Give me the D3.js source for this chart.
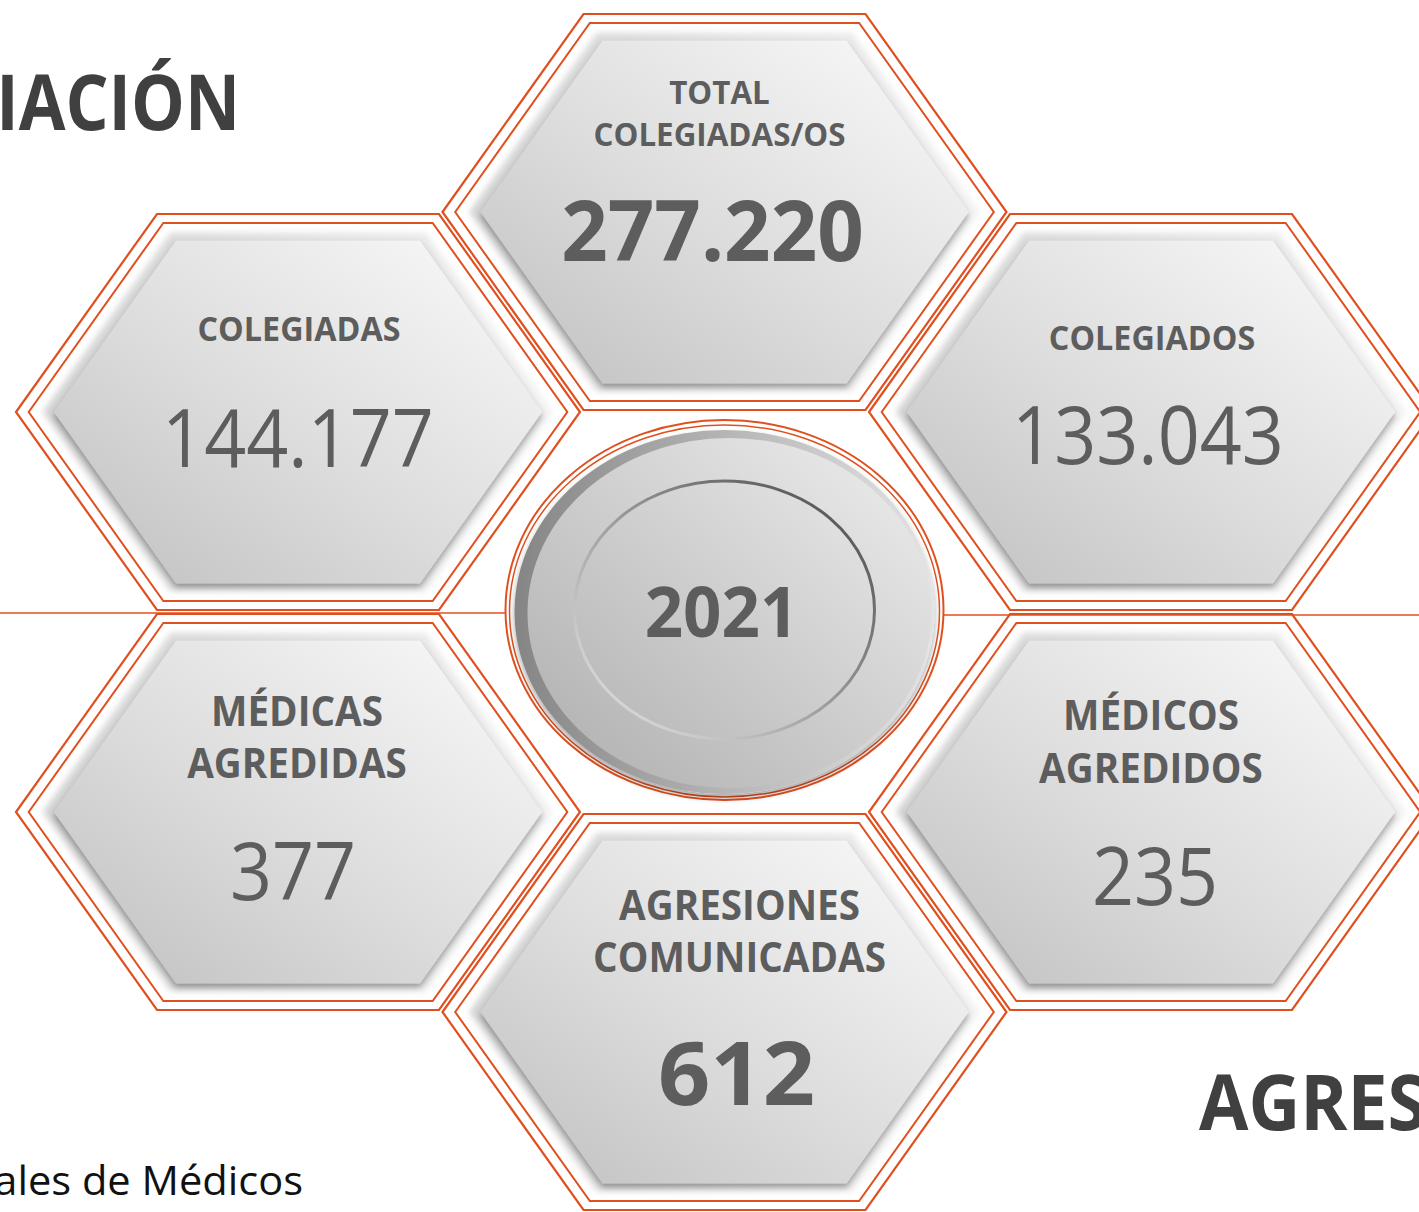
<!DOCTYPE html>
<html>
<head>
<meta charset="utf-8">
<script src="https://cdn.jsdelivr.net/npm/d3@7"></script>
<style>
  body { margin: 0; background: #fff; }
  svg { display: block; }
  text { font-family: "Open Sans", sans-serif; }
</style>
</head>
<body>
<script>
// data
var labels = [["TOTAL", "COLEGIADAS/OS"], ["COLEGIADAS"], ["COLEGIADOS"],
              ["MÉDICAS", "AGREDIDAS"], ["MÉDICOS", "AGREDIDOS"], ["AGRESIONES", "COMUNICADAS"]];
var values = [277220, 144177, 133043, 377, 235, 612];
var year = "2021";
var headings = ["COLEGIACIÓN", "AGRESIONES"];
var source = "Fuente: Consejo General de Colegios Oficiales de Médicos";

// layout: cell of each hexagon on a grid (col, row), centre disc sits at (1, 2)
var cols = [1, 0, 2, 0, 2, 1];
var rows = [0, 1, 1, 3, 3, 4];

var width = 1419, height = 1212;
var orange = "#e0501f", ink = "#5d5d5d";

var x = d3.scaleLinear().domain([0, 2]).range([298, 1151]);
var y = d3.scaleLinear().domain([0, 4]).range([212, 1012]);

var es = d3.formatLocale({decimal: ",", thousands: ".", grouping: [3], currency: ["", "€"]});
var fmt = es.format(",d");

var svg = d3.select("body").append("svg")
    .attr("width", width)
    .attr("height", height);

var defs = svg.append("defs");

var g1 = defs.append("linearGradient").attr("id", "face")
    .attr("x1", 1).attr("y1", 0).attr("x2", 0).attr("y2", 1);
g1.append("stop").attr("offset", 0).attr("stop-color", "#fbfbfb");
g1.append("stop").attr("offset", 0.55).attr("stop-color", "#dcdcdc");
g1.append("stop").attr("offset", 1).attr("stop-color", "#bfbfbf");

var g2 = defs.append("linearGradient").attr("id", "halo")
    .attr("x1", 0).attr("y1", 0).attr("x2", 1).attr("y2", 0);
g2.append("stop").attr("offset", 0).attr("stop-color", "#d2d2d2");
g2.append("stop").attr("offset", 1).attr("stop-color", "#f2f2f2");

var g3 = defs.append("linearGradient").attr("id", "rim")
    .attr("x1", 0).attr("y1", 0).attr("x2", 1).attr("y2", 0);
g3.append("stop").attr("offset", 0).attr("stop-color", "#858585");
g3.append("stop").attr("offset", 1).attr("stop-color", "#e4e4e4");

var g4 = defs.append("linearGradient").attr("id", "disc")
    .attr("x1", 1).attr("y1", 0).attr("x2", 0).attr("y2", 1);
g4.append("stop").attr("offset", 0).attr("stop-color", "#efefef");
g4.append("stop").attr("offset", 1).attr("stop-color", "#adadad");

var g5 = defs.append("linearGradient").attr("id", "ring")
    .attr("x1", 1).attr("y1", 0).attr("x2", 0).attr("y2", 1);
g5.append("stop").attr("offset", 0).attr("stop-color", "#444");
g5.append("stop").attr("offset", 0.5).attr("stop-color", "#9a9a9a");
g5.append("stop").attr("offset", 1).attr("stop-color", "#ececec");

var blur = defs.append("filter").attr("id", "blur")
    .attr("x", "-10%").attr("y", "-10%").attr("width", "120%").attr("height", "120%");
blur.append("feGaussianBlur").attr("stdDeviation", 3);

var shadow = defs.append("filter").attr("id", "shadow")
    .attr("x", "-10%").attr("y", "-10%").attr("width", "120%").attr("height", "125%");
shadow.append("feDropShadow").attr("dx", 0).attr("dy", 4)
    .attr("stdDeviation", 3).attr("flood-color", "#000").attr("flood-opacity", 0.35);

// flat-top hexagon, squashed a bit vertically
var R = 282, H = 198;
function hex(s) {
  var pts = [[-R, 0], [-R / 2, -H], [R / 2, -H], [R, 0], [R / 2, H], [-R / 2, H]]
    .map(function(p) { return [p[0] * s, p[1] * s]; });
  return d3.line().curve(d3.curveLinearClosed)(pts);
}

// horizontal rule through the middle
var cx = x(1), cy = y(2);
svg.append("line").attr("x1", 0).attr("x2", cx - 210)
    .attr("y1", cy + 1).attr("y2", cy + 1)
    .attr("stroke", orange).attr("stroke-width", 1.5);
svg.append("line").attr("x1", cx + 210).attr("x2", width)
    .attr("y1", cy + 3).attr("y2", cy + 3)
    .attr("stroke", orange).attr("stroke-width", 1.5);

// text helper, squeezed horizontally to look like a narrow sans
function txt(sel, tx, ty, str, size, weight, fill, sx, anchor) {
  return sel.append("text")
    .attr("transform", "translate(" + tx + "," + ty + ") scale(" + sx + ",1)")
    .attr("text-anchor", anchor || "middle")
    .style("font-size", size + "px")
    .style("font-weight", weight)
    .attr("fill", fill)
    .text(str);
}

// per cell text placement (offsets from hex centre) and style
var labelDx = [-5, 1, 1, -1, 0, 15];
var labelY = [-108, -71, -62, -86, -82, -92];
var labelGap = [42, 0, 0, 52, 53, 52];
var labelSize = [33, 34, 34, 42, 42, 42];
var valueDx = [-12, 0, -3, -5, 4, 12];
var valueY = [49, 55, 52, 88, 93, 93];
var valueSize = [84, 80, 80, 80, 80, 88];
var valueSx = [0.97, 0.92, 0.92, 0.92, 0.92, 1.04];
var valueBold = [true, false, false, false, false, true];

var cells = svg.selectAll("g.cell")
    .data(values)
    .enter().append("g")
    .attr("class", "cell")
    .attr("transform", function(d, i) { return "translate(" + x(cols[i]) + "," + y(rows[i]) + ")"; });

cells.append("path").attr("d", hex(0.905))
    .attr("fill", "url(#halo)").attr("filter", "url(#blur)");
cells.append("path").attr("d", hex(0.865))
    .attr("fill", "url(#face)").attr("filter", "url(#shadow)");
cells.append("path").attr("d", hex(1))
    .attr("fill", "none").attr("stroke", orange).attr("stroke-width", 2.2);
cells.append("path").attr("d", hex(0.955))
    .attr("fill", "none").attr("stroke", orange).attr("stroke-width", 2);

cells.each(function(d, i) {
  var c = d3.select(this);
  // label lines go into one text element as tspans
  var t = txt(c, labelDx[i], labelY[i], "", labelSize[i], 700, ink, labelSize[i] > 40 ? 0.92 : 0.95);
  labels[i].forEach(function(l, j) {
    t.append("tspan").attr("x", 0).attr("y", j * labelGap[i]).text(l);
  });
  txt(c, valueDx[i], valueY[i], fmt(d), valueSize[i], valueBold[i] ? 700 : 400, ink, valueSx[i]);
});

// centre disc
var disc = svg.append("g").attr("transform", "translate(" + cx + "," + (cy - 2) + ")");
disc.append("ellipse").attr("rx", 219).attr("ry", 190)
    .attr("fill", "#fff").attr("stroke", orange).attr("stroke-width", 2);
disc.append("ellipse").attr("rx", 215).attr("ry", 186).attr("cy", 1)
    .attr("fill", "none").attr("stroke", orange).attr("stroke-width", 1.5);
disc.append("ellipse").attr("rx", 210).attr("ry", 182).attr("cy", 2)
    .attr("fill", "url(#rim)").attr("filter", "url(#shadow)");
disc.append("ellipse").attr("rx", 202).attr("ry", 175).attr("cx", 5).attr("cy", 3)
    .attr("fill", "url(#disc)");
disc.append("ellipse").attr("rx", 150).attr("ry", 129).attr("cy", 0)
    .attr("fill", "none").attr("stroke", "url(#ring)").attr("stroke-width", 3);
txt(disc, -3, 27, year, 70, 700, ink, 0.96);

// side headings and source note (cut by the page edges as in the slide)
txt(svg, 240, 130, headings[0], 77, 700, "#404040", 0.88, "end");
txt(svg, 1199, 1130, headings[1], 77, 700, "#404040", 0.93, "start");
txt(svg, 303, 1195, source, 40, 400, "#111", 1.04, "end");
</script>
</body>
</html>
